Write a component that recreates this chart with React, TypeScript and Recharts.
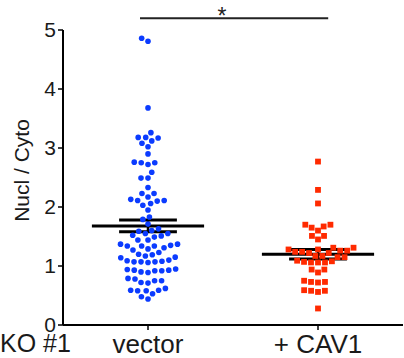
// Nucl/Cyto scatter dot plot — vector vs + CAV1 (KO #1)
import { ScatterChart, Scatter, XAxis, YAxis, ReferenceLine, ReferenceDot, Label } from "recharts"

const groups = ["vector", "+ CAV1"]

const vectorValues = [
  4.86, 4.81, 3.68, 3.26, 3.18, 3.17, 3.18, 3.12, 3.08, 3.02, 2.9, 2.75, 2.72, 2.75, 2.76, 2.59,
  2.49, 2.49, 2.33, 2.23, 2.23, 2.17, 2.13, 2.11, 2.06, 2.1, 2.11, 2.03, 1.95, 1.83, 1.79, 1.71,
  1.63, 1.6, 1.55, 1.51, 1.49, 1.52, 1.55, 1.59, 1.44, 1.44, 1.37, 1.31, 1.34, 1.27, 1.34, 1.34,
  1.35, 1.37, 1.29, 1.2, 1.19, 1.23, 1.15, 1.1, 1.08, 1.07, 1.06, 1.07, 1.07, 1.09, 1.14, 1.17,
  0.95, 0.93, 0.92, 0.9, 0.89, 0.92, 0.93, 0.94, 0.79, 0.75, 0.72, 0.75, 0.78, 0.71, 0.62, 0.53,
  0.59, 0.58, 0.59, 0.58, 0.44, 0.48,
]

const cav1Values = [
  2.77, 2.29, 2.06, 1.7, 1.7, 1.65, 1.67, 1.6, 1.51, 1.51, 1.45, 1.31, 1.31, 1.28, 1.28, 1.26,
  1.26, 1.24, 1.24, 1.22, 1.22, 1.17, 1.17, 1.15, 1.15, 1.08, 1.06, 1.06, 1.06, 1.07, 1.09, 0.94,
  0.94, 0.89, 0.73, 0.72, 0.73, 0.75, 0.59, 0.58, 0.56, 0.58, 0.28,
]

const means = [1.68, 1.2]
const sems = [0.1, 0.08]
const yTicks = [0, 1, 2, 3, 4, 5]
const sigY = 5.2

const W = 404
const H = 358
const Y_AXIS_W = 63
const X_AXIS_H = 33
const TOP = 30
const RIGHT = 1
const pxPerX = (W - Y_AXIS_W - RIGHT) / 2
const pxPerY = (H - TOP - X_AXIS_H) / 5

const FONT = "'Liberation Sans', Arial, Helvetica, sans-serif"

// simple beeswarm: each dot goes to the free spot closest to the group centre
function swarm(values: number[], center: number) {
  const D = 7
  const placed: { x: number; y: number }[] = []
  const order = values.map((_, i) => i).sort((a, b) => values[a] - values[b])
  const out: { x: number; y: number }[] = new Array(values.length)
  for (const i of order) {
    const yp = values[i] * pxPerY
    const blocks: [number, number][] = []
    for (const p of placed) {
      const dy = Math.abs(p.y - yp)
      if (dy < D) {
        const w = Math.sqrt(D * D - dy * dy)
        blocks.push([p.x - w, p.x + w])
      }
    }
    const cands = [0]
    blocks.forEach(([a, b]) => cands.push(a, b))
    cands.sort((a, b) => Math.abs(a) - Math.abs(b))
    const x = cands.find((c) => blocks.every(([a, b]) => c <= a + 1e-6 || c >= b - 1e-6)) ?? 0
    placed.push({ x, y: yp })
    out[i] = { x: center + x / pxPerX, y: values[i] }
  }
  return out
}

const vectorData = swarm(vectorValues, 0)
const cav1Data = swarm(cav1Values, 1)

const BlueDot = (p: any) => <circle cx={p.cx} cy={p.cy} r={2.8} fill="#0b3bff" />
const RedSquare = (p: any) => (
  <rect x={p.cx - 2.9} y={p.cy - 2.9} width={5.8} height={5.8} fill="#ff2a00" />
)

function GroupTick({ x, y, payload }: any) {
  return (
    <text x={x} y={y + 21} textAnchor="middle" fontSize={26} fontFamily={FONT} fill="#1a1a1a">
      {groups[payload.value]}
    </text>
  )
}

const seg = (x1: number, x2: number, y1: number, y2: number) => [
  { x: x1, y: y1 },
  { x: x2, y: y2 },
]

export default function App() {
  return (
    <div style={{ position: "absolute", left: 0, top: 0, width: W, height: H, background: "#fff" }}>
      <ScatterChart width={W} height={H} margin={{ top: TOP, right: RIGHT, bottom: 0, left: 0 }}>
        <XAxis
          type="number"
          dataKey="x"
          domain={[-0.5, 1.5]}
          ticks={[0, 1]}
          tick={<GroupTick />}
          tickSize={5}
          height={X_AXIS_H}
          axisLine={{ stroke: "#000", strokeWidth: 2 }}
          tickLine={{ stroke: "#000", strokeWidth: 1.5 }}
          allowDataOverflow
        >
          <Label
            content={() => (
              <text x={0} y={352} fontSize={25} fontFamily={FONT} fill="#1a1a1a">
                KO #1
              </text>
            )}
          />
        </XAxis>
        <YAxis
          type="number"
          dataKey="y"
          domain={[0, 5]}
          ticks={yTicks}
          width={Y_AXIS_W}
          tickSize={5}
          tickMargin={2}
          tick={{ fontSize: 21, fill: "#1a1a1a", fontFamily: FONT }}
          axisLine={{ stroke: "#000", strokeWidth: 2 }}
          tickLine={{ stroke: "#000", strokeWidth: 1.5 }}
          allowDataOverflow
        >
          <Label
            content={({ viewBox }: any) => {
              const cx = 21
              const cy = viewBox.y + viewBox.height / 2 - 7
              return (
                <text
                  x={cx}
                  y={cy}
                  transform={`rotate(-90 ${cx} ${cy})`}
                  textAnchor="middle"
                  dominantBaseline="central"
                  fontSize={21}
                  fontFamily={FONT}
                  fill="#1a1a1a"
                >
                  Nucl / Cyto
                </text>
              )
            }}
          />
        </YAxis>
        <Scatter data={vectorData} shape={BlueDot} isAnimationActive={false} />
        <Scatter data={cav1Data} shape={RedSquare} isAnimationActive={false} />
        {means.map((m, i) => (
          <ReferenceLine
            key={"mean" + i}
            segment={seg(i - 0.33, i + 0.33, m, m)}
            stroke="#000"
            strokeWidth={3}
            ifOverflow="visible"
          />
        ))}
        {means.map((m, i) => (
          <ReferenceLine
            key={"hi" + i}
            segment={seg(i - 0.17, i + 0.17, m + sems[i], m + sems[i])}
            stroke="#000"
            strokeWidth={3}
            ifOverflow="visible"
          />
        ))}
        {means.map((m, i) => (
          <ReferenceLine
            key={"lo" + i}
            segment={seg(i - 0.17, i + 0.17, m - sems[i], m - sems[i])}
            stroke="#000"
            strokeWidth={3}
            ifOverflow="visible"
          />
        ))}
        {means.map((m, i) => (
          <ReferenceLine
            key={"v" + i}
            segment={seg(i, i, m - sems[i], m + sems[i])}
            stroke="#000"
            strokeWidth={2.5}
            ifOverflow="visible"
          />
        ))}
        <ReferenceLine
          segment={seg(-0.047, 1.06, sigY, sigY)}
          stroke="#222"
          strokeWidth={2}
          ifOverflow="visible"
        />
        <ReferenceDot
          x={0.435}
          y={sigY}
          r={0}
          ifOverflow="visible"
          shape={(p: any) => (
            <text x={p.cx} y={p.cy + 6} textAnchor="middle" fontSize={23} fontFamily={FONT} fill="#222">
              *
            </text>
          )}
        />
      </ScatterChart>
    </div>
  )
}
